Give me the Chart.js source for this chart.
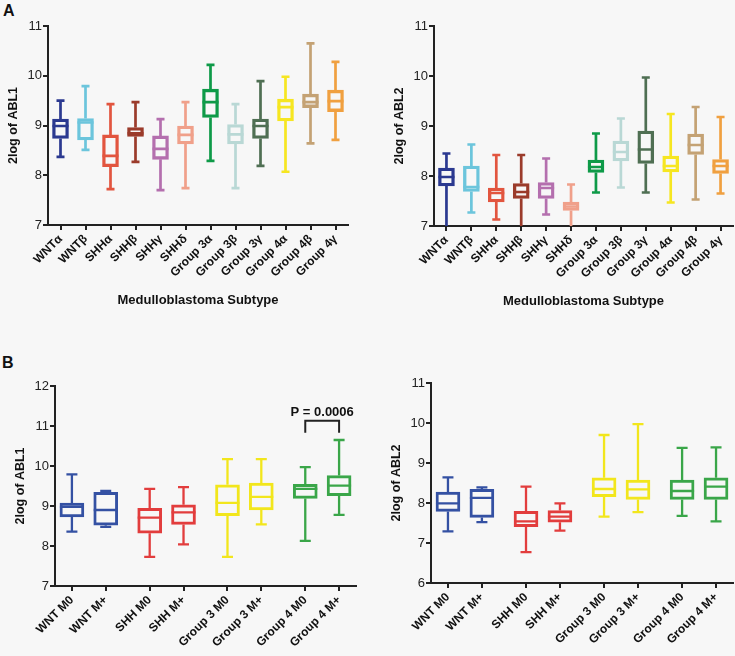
<!DOCTYPE html>
<html>
<head>
<meta charset="utf-8">
<script src="https://cdn.jsdelivr.net/npm/chart.js@4.4.0/dist/chart.umd.min.js"></script>
<style>
    html, body { margin: 0; padding: 0; background: #f7f7f7; }
    #page { position: relative; width: 735px; height: 656px; overflow: hidden; font-family: "Liberation Sans", Arial, sans-serif; }
    .panel { position: absolute; }
    .tag { position: absolute; font-weight: bold; font-size: 16px; line-height: 1; color: #111; }
</style>
</head>
<body>
<div id="page">
    <div class="tag" style="left:3px; top:3px;">A</div>
    <div class="tag" style="left:2px; top:355px;">B</div>
    <div class="panel" style="left:0; top:0; width:365px; height:320px;"><canvas id="abl1SubtypeChart"></canvas></div>
    <div class="panel" style="left:365px; top:0; width:370px; height:320px;"><canvas id="abl2SubtypeChart"></canvas></div>
    <div class="panel" style="left:0; top:330px; width:365px; height:326px;"><canvas id="abl1StageChart"></canvas></div>
    <div class="panel" style="left:365px; top:330px; width:370px; height:326px;"><canvas id="abl2StageChart"></canvas></div>
</div>
<script>
// subtype panels (A)
const subtypeLabels = ['WNTα', 'WNTβ', 'SHHα', 'SHHβ', 'SHHγ', 'SHHδ', 'Group 3α', 'Group 3β', 'Group 3γ', 'Group 4α', 'Group 4β', 'Group 4γ'];
const subtypeColors = ['#2b3990', '#6cc5dc', '#e2553f', '#9b3b2b', '#b46fae', '#f0a08a', '#0e9a48', '#b9d8d5', '#4f6f53', '#f6e621', '#c4a274', '#f0a040'];

const abl1SubtypeLow = [8.37, 8.51, 7.72, 8.27, 7.70, 7.74, 8.29, 7.74, 8.19, 8.07, 8.64, 8.71];
const abl1SubtypeQ1 = [8.74, 8.71, 8.17, 8.78, 8.32, 8.63, 9.16, 8.63, 8.74, 9.09, 9.36, 9.28];
const abl1SubtypeMedian = [8.99, 9.06, 8.39, 8.84, 8.53, 8.81, 9.47, 8.82, 8.99, 9.37, 9.47, 9.49];
const abl1SubtypeQ3 = [9.13, 9.14, 8.81, 8.96, 8.79, 8.99, 9.73, 9.02, 9.13, 9.53, 9.63, 9.71];
const abl1SubtypeHigh = [9.50, 9.79, 9.43, 9.47, 9.13, 9.47, 10.22, 9.43, 9.89, 9.98, 10.65, 10.28];

const abl2SubtypeLow = [6.9, 7.27, 7.13, 6.9, 7.23, 6.9, 7.67, 7.77, 7.67, 7.47, 7.53, 7.65];
const abl2SubtypeQ1 = [7.80, 7.69, 7.48, 7.55, 7.55, 7.31, 8.07, 8.30, 8.25, 8.08, 8.43, 8.05];
const abl2SubtypeMedian = [7.98, 7.78, 7.66, 7.68, 7.76, 7.39, 8.18, 8.48, 8.53, 8.20, 8.62, 8.20];
const abl2SubtypeQ3 = [8.16, 8.20, 7.76, 7.85, 7.87, 7.48, 8.32, 8.70, 8.90, 8.40, 8.84, 8.33];
const abl2SubtypeHigh = [8.45, 8.63, 8.42, 8.42, 8.35, 7.83, 8.85, 9.15, 9.97, 9.24, 9.38, 9.18];

// metastasis panels (B)
const stageLabels = ['WNT M0', 'WNT M+', 'SHH M0', 'SHH M+', 'Group 3 M0', 'Group 3 M+', 'Group 4 M0', 'Group 4 M+'];
const stageColors = ['#3451a3', '#3451a3', '#e23d3d', '#e23d3d', '#f2e61c', '#f2e61c', '#3aa649', '#3aa649'];

const abl1StageLow = [8.36, 8.48, 7.73, 8.04, 7.73, 8.54, 8.13, 8.78];
const abl1StageQ1 = [8.73, 8.52, 8.32, 8.54, 8.76, 8.90, 9.19, 9.26];
const abl1StageMedian = [8.98, 8.90, 8.71, 8.84, 9.08, 9.23, 9.43, 9.51];
const abl1StageQ3 = [9.07, 9.34, 8.94, 9.03, 9.53, 9.57, 9.54, 9.76];
const abl1StageHigh = [9.79, 9.38, 9.43, 9.47, 10.17, 10.17, 9.97, 10.65];

const abl2StageLow = [7.29, 7.52, 6.77, 7.31, 7.66, 7.77, 7.68, 7.54];
const abl2StageQ1 = [7.79, 7.64, 7.41, 7.52, 8.16, 8.09, 8.09, 8.09];
const abl2StageMedian = [7.99, 8.13, 7.54, 7.66, 8.35, 8.34, 8.30, 8.41];
const abl2StageQ3 = [8.27, 8.34, 7.79, 7.81, 8.63, 8.57, 8.57, 8.63];
const abl2StageHigh = [8.64, 8.39, 8.41, 7.99, 9.70, 9.97, 9.38, 9.39];

// significance bracket between Group 4 M0 and Group 4 M+
const pValueText = 'P = 0.0006';
const pBracketPair = [6, 7];
const pBracketTop = 11.13;
const pBracketLeg = 10.83;

const AXIS_COLOR = '#222';
Chart.defaults.font.family = '"Liberation Sans", Arial, Helvetica, sans-serif';

// pairs sit closer together than the gap between subgroups
const stagePositions = stageLabels.map(function(label, i) {
    return i + Math.floor(i / 2) * 0.3;
});

function boxWhiskerPlugin(stats, style) {
    return {
        id: 'boxWhiskers',
        afterDatasetsDraw: function(chart) {
            const ctx = chart.ctx;
            const yScale = chart.scales.y;
            const area = chart.chartArea;
            const meta = chart.getDatasetMeta(0);
            const colors = chart.data.datasets[0].borderColor;

            ctx.save();
            ctx.beginPath();
            ctx.rect(area.left, 0, area.right - area.left, area.bottom);
            ctx.clip();
            ctx.lineWidth = style.lineWidth;
            ctx.lineCap = 'butt';

            meta.data.forEach(function(bar, i) {
                const half = bar.width / 2;
                const yLow = yScale.getPixelForValue(stats.low[i]);
                const yQ1 = yScale.getPixelForValue(stats.q1[i]);
                const yMed = yScale.getPixelForValue(stats.median[i]);
                const yQ3 = yScale.getPixelForValue(stats.q3[i]);
                const yHigh = yScale.getPixelForValue(stats.high[i]);

                ctx.strokeStyle = colors[i];
                ctx.beginPath();
                ctx.moveTo(bar.x, yQ3);
                ctx.lineTo(bar.x, yHigh);
                ctx.moveTo(bar.x, yQ1);
                ctx.lineTo(bar.x, yLow);
                ctx.moveTo(bar.x - style.cap, yHigh);
                ctx.lineTo(bar.x + style.cap, yHigh);
                ctx.moveTo(bar.x - style.cap, yLow);
                ctx.lineTo(bar.x + style.cap, yLow);
                ctx.moveTo(bar.x - half, yMed);
                ctx.lineTo(bar.x + half, yMed);
                ctx.stroke();
            });
            ctx.restore();
        }
    };
}

const pValuePlugin = {
    id: 'pValueBracket',
    afterDatasetsDraw: function(chart) {
        const ctx = chart.ctx;
        const x1 = chart.scales.x.getPixelForValue(stagePositions[pBracketPair[0]]);
        const x2 = chart.scales.x.getPixelForValue(stagePositions[pBracketPair[1]]);
        const yTop = chart.scales.y.getPixelForValue(pBracketTop);
        const yLeg = chart.scales.y.getPixelForValue(pBracketLeg);

        ctx.save();
        ctx.strokeStyle = '#222';
        ctx.lineWidth = 2;
        ctx.beginPath();
        ctx.moveTo(x1, yLeg);
        ctx.lineTo(x1, yTop);
        ctx.lineTo(x2, yTop);
        ctx.lineTo(x2, yLeg);
        ctx.stroke();
        ctx.fillStyle = '#111';
        ctx.font = 'bold 13px "Liberation Sans", Arial, sans-serif';
        ctx.textAlign = 'center';
        ctx.textBaseline = 'alphabetic';
        ctx.fillText(pValueText, (x1 + x2) / 2, yTop - 5);
        ctx.restore();
    }
};

function axisGrid() {
    return {
        drawOnChartArea: false,
        offset: false,
        tickLength: 5,
        color: AXIS_COLOR,
        lineWidth: 2
    };
}

function createBoxChart(canvasId, cfg) {
    const stats = cfg.stats;
    const boxes = stats.q1.map(function(v, i) {
        return cfg.positions ? { x: cfg.positions[i], y: [v, stats.q3[i]] } : [v, stats.q3[i]];
    });

    const xScale = {
        grid: axisGrid(),
        border: { color: AXIS_COLOR, width: 2 },
        ticks: {
            autoSkip: false,
            minRotation: 45,
            maxRotation: 45,
            padding: 2,
            color: '#111',
            font: { size: 12, weight: 'bold' }
        },
        afterFit: function(scale) {
            scale.height = cfg.xHeight;
        }
    };

    if (cfg.positions) {
        xScale.type = 'linear';
        xScale.offset = false;
        xScale.min = -0.5;
        xScale.max = 8.4;
        xScale.afterBuildTicks = function(scale) {
            scale.ticks = cfg.positions.map(function(v) { return { value: v }; });
        };
        xScale.ticks.callback = function(value, index) {
            return cfg.labels[index];
        };
    } else {
        xScale.type = 'category';
        xScale.offset = true;
    }

    if (cfg.xTitle) {
        xScale.title = {
            display: true,
            text: cfg.xTitle,
            color: '#111',
            padding: { top: 4, bottom: 4 },
            font: { size: 13, weight: 'bold' }
        };
    }

    const plugins = [boxWhiskerPlugin(stats, { lineWidth: cfg.lineWidth, cap: cfg.cap })];
    if (cfg.bracket) plugins.push(pValuePlugin);

    return new Chart(document.getElementById(canvasId), {
        type: 'bar',
        data: {
            labels: cfg.positions ? undefined : cfg.labels,
            datasets: [{
                data: boxes,
                backgroundColor: 'rgba(0, 0, 0, 0)',
                borderColor: cfg.colors,
                borderWidth: cfg.lineWidth,
                borderSkipped: false,
                barThickness: cfg.boxWidth
            }]
        },
        options: {
            responsive: true,
            maintainAspectRatio: false,
            animation: false,
            events: [],
            layout: { padding: cfg.padding },
            plugins: {
                legend: { display: false },
                tooltip: { enabled: false }
            },
            scales: {
                x: xScale,
                y: {
                    min: cfg.yMin,
                    max: cfg.yMax,
                    grid: axisGrid(),
                    border: { color: AXIS_COLOR, width: 2 },
                    ticks: {
                        stepSize: 1,
                        padding: 1,
                        color: '#222',
                        font: { size: 13 }
                    },
                    title: {
                        display: true,
                        text: cfg.yTitle,
                        color: '#111',
                        padding: { top: 4, bottom: 4 },
                        font: { size: 12.5, weight: 'bold' }
                    },
                    afterFit: function(scale) {
                        scale.width = 46;
                    }
                }
            }
        },
        plugins: plugins
    });
}

createBoxChart('abl1SubtypeChart', {
    labels: subtypeLabels,
    colors: subtypeColors,
    stats: { low: abl1SubtypeLow, q1: abl1SubtypeQ1, median: abl1SubtypeMedian, q3: abl1SubtypeQ3, high: abl1SubtypeHigh },
    yMin: 7, yMax: 11,
    yTitle: '2log of ABL1',
    xTitle: 'Medulloblastoma Subtype',
    xHeight: 87,
    padding: { left: 2, top: 26, right: 17, bottom: 8 },
    boxWidth: 16, cap: 4, lineWidth: 2.7
});

createBoxChart('abl2SubtypeChart', {
    labels: subtypeLabels,
    colors: subtypeColors,
    stats: { low: abl2SubtypeLow, q1: abl2SubtypeQ1, median: abl2SubtypeMedian, q3: abl2SubtypeQ3, high: abl2SubtypeHigh },
    yMin: 7, yMax: 11,
    yTitle: '2log of ABL2',
    xTitle: 'Medulloblastoma Subtype',
    xHeight: 87,
    padding: { left: 23, top: 26, right: 2, bottom: 7 },
    boxWidth: 16, cap: 4, lineWidth: 2.7
});

createBoxChart('abl1StageChart', {
    labels: stageLabels,
    colors: stageColors,
    positions: stagePositions,
    stats: { low: abl1StageLow, q1: abl1StageQ1, median: abl1StageMedian, q3: abl1StageQ3, high: abl1StageHigh },
    yMin: 7, yMax: 12,
    yTitle: '2log of ABL1',
    xHeight: 70,
    padding: { left: 9, top: 56, right: 9, bottom: 0 },
    boxWidth: 24, cap: 5.5, lineWidth: 2.3,
    bracket: true
});

createBoxChart('abl2StageChart', {
    labels: stageLabels,
    colors: stageColors,
    positions: stagePositions,
    stats: { low: abl2StageLow, q1: abl2StageQ1, median: abl2StageMedian, q3: abl2StageQ3, high: abl2StageHigh },
    yMin: 6, yMax: 11,
    yTitle: '2log of ABL2',
    xHeight: 70,
    padding: { left: 20, top: 53, right: 2, bottom: 3 },
    boxWidth: 24, cap: 5.5, lineWidth: 2.3
});
</script>
</body>
</html>
